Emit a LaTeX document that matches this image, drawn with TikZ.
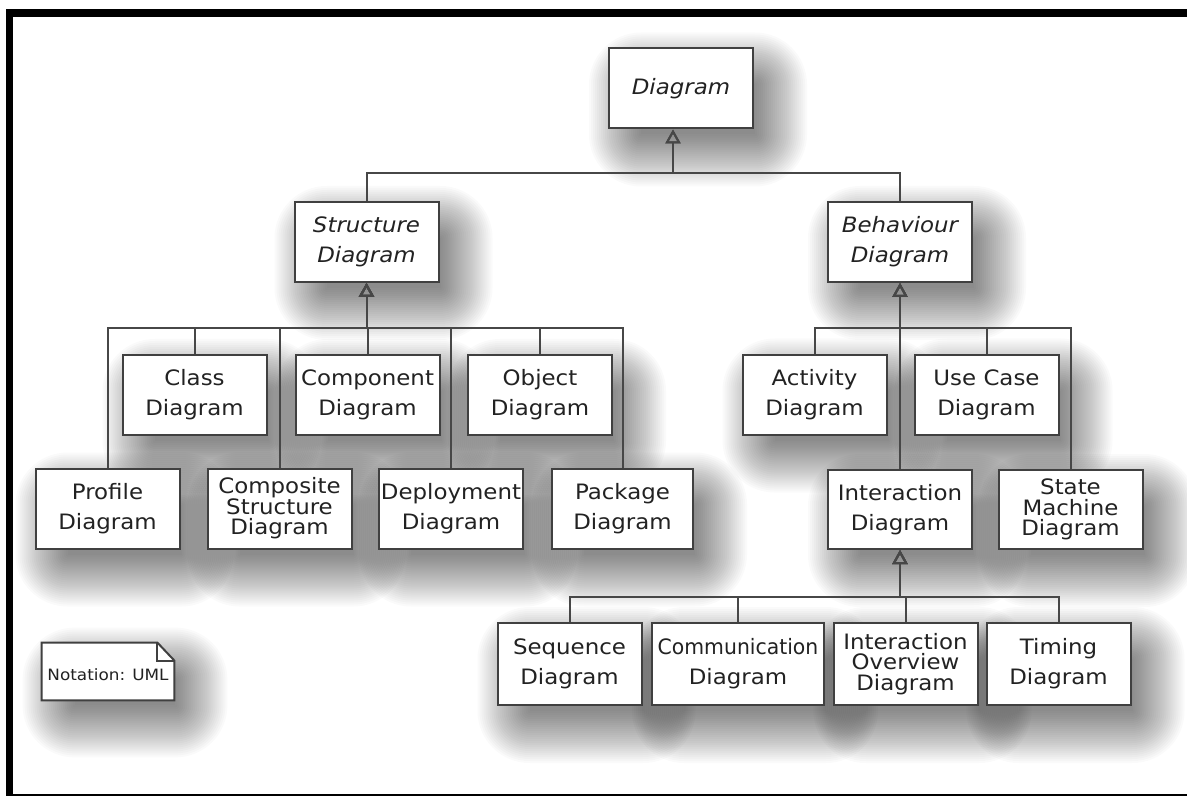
\documentclass[tikz,border=0pt]{standalone}
\usepackage{fontspec}
\setmainfont{DejaVu Sans}[FakeStretch=1.08]
\usepackage{graphicx}
\usetikzlibrary{arrows.meta,calc,backgrounds}
\definecolor{ln}{HTML}{474747}
\definecolor{bd}{HTML}{404040}
\definecolor{tx}{HTML}{222222}
\begin{document}
\begin{tikzpicture}[x=0.5pt,y=-0.5pt,
  box/.style={draw=bd, line width=1pt, fill=white, minimum width=72pt, minimum height=40pt,
    inner sep=0pt, align=center, text=tx, font=\fontsize{10.6pt}{15pt}\selectfont},
  three/.style={font=\fontsize{10.6pt}{10.2pt}\selectfont},
  ital/.style={font=\fontsize{10.6pt}{15pt}\selectfont\itshape},
  gen/.style={draw=ln, line width=1pt, -{Triangle[open, length=7pt, width=7.5pt, line width=1pt]}},
  notetxt/.style={text=tx, inner sep=0pt, font=\fontsize{7.8pt}{9pt}\selectfont}
]
\useasboundingbox (0,0) rectangle (1187,796);

% top level
\node[box, ital] (diagram) at (681,88.5) {Diagram};
\node[box, ital] (struct) at (366.5,242) {Structure\\Diagram};
\node[box, ital] (behav) at (900,242) {Behaviour\\Diagram};

% structure children
\node[box] (class) at (194.5,395) {Class\\Diagram};
\node[box] (component) at (367.5,395) {Component\\Diagram};
\node[box] (object) at (540,395) {Object\\Diagram};
\node[box] (profile) at (107.5,508.5) {Profile\\Diagram};
\node[box, three] (composite) at (279.5,508.5) {Composite\\Structure\\Diagram};
\node[box] (deployment) at (451,508.5) {Deployment\\Diagram};
\node[box, minimum width=70.5pt] (package) at (622.5,508.5) {Package\\Diagram};

% behaviour children
\node[box] (activity) at (814.5,394.5) {Activity\\Diagram};
\node[box] (usecase) at (986.5,394.5) {Use Case\\Diagram};
\node[box, minimum height=39.5pt] (inter) at (900,509.5) {Interaction\\Diagram};
\node[box, three, minimum height=39.5pt] (state) at (1070.5,509.5) {State\\Machine\\Diagram};

% interaction children
\node[box, minimum height=41pt] (sequence) at (569.5,664) {Sequence\\Diagram};
\node[box, minimum height=41pt, minimum width=86pt] (comm) at (738,664) {\scalebox{0.89}[1]{Communication}\\Diagram};
\node[box, three, minimum height=41pt] (overview) at (905.5,664) {Interaction\\Overview\\Diagram};
\node[box, minimum height=41pt] (timing) at (1058.5,664) {Timing\\Diagram};

% note
\node[minimum width=66pt, minimum height=28.5pt, inner sep=0pt] (note) at (108,671.5) {};
\draw[draw=bd, line width=1pt, fill=white] (note.north west) -- ($(note.north east)+(-17,0)$)
  -- ($(note.north east)+(0,18)$) -- (note.south east) -- (note.south west) -- cycle;
\draw[draw=bd, line width=1pt] ($(note.north east)+(-17,0)$) -- ($(note.north east)+(-17,18)$)
  -- ($(note.north east)+(0,18)$);
\node[notetxt] (notetext) at ($(note.center)+(0,3)$) {Notation: UML};

% buses
\coordinate (tbus) at ($(diagram.south)+(-8,44)$);
\coordinate (sbus) at ($(struct.south)+(0,45)$);
\coordinate (bbus) at ($(behav.south)+(0,45)$);
\coordinate (ibus) at ($(inter.south)+(0,47)$);

\draw[gen] (struct.north) |- (tbus) -- (tbus |- diagram.south);
\draw[gen] (behav.north) |- (tbus) -- (tbus |- diagram.south);

\foreach \c in {profile,class,composite,component,deployment,object,package}{
  \draw[gen] (\c.north) |- (sbus) -- (struct.south);
}
\foreach \c in {activity,usecase,inter,state}{
  \draw[gen] (\c.north) |- (bbus) -- (behav.south);
}
\foreach \c in {sequence,comm,overview,timing}{
  \draw[gen] (\c.north) |- (ibus) -- (inter.south);
}

% shadows
\begin{pgfonlayer}{background}
  \fill[white] (0,0) rectangle (1187,796);
  \foreach \n in {diagram,struct,behav,class,component,object,profile,composite,deployment,package,
                  activity,usecase,inter,state,sequence,comm,overview,timing,note}{
    \foreach \r in {-16,-14,...,36}{
      \pgfmathsetmacro{\rc}{(\r+16)*0.5}
      \fill[black, opacity=0.021, rounded corners=\rc pt]
        ($(\n.south west)+(17-\r,21+\r)$) rectangle ($(\n.north east)+(17+\r,21-\r)$);
    }
  }
\end{pgfonlayer}

% frame
\fill[black] (6,9) rectangle (1187,17);
\fill[black] (6,9) rectangle (13,796);
\fill[black] (6,793.5) rectangle (1187,795.5);
\end{tikzpicture}
\end{document}
